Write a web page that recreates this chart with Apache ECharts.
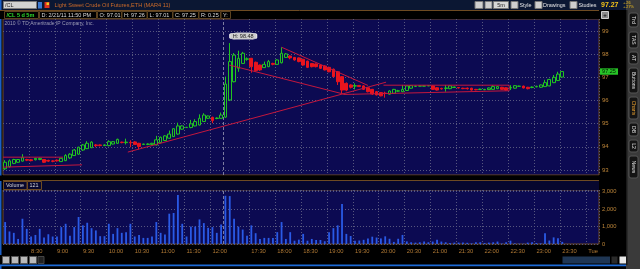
<!DOCTYPE html>
<html><head><meta charset="utf-8">
<script src="https://cdn.jsdelivr.net/npm/echarts@6/dist/echarts.min.js"></script>
<style>html,body{margin:0;padding:0;background:#000;}#c{width:640px;height:269px;}</style>
</head><body><div id="c"></div><script>
// ---------- DATA ----------
const times = [
 '8:00','8:05','8:10','8:15','8:20','8:25','8:30','8:35','8:40','8:45','8:50','8:55',
 '9:00','9:05','9:10','9:15','9:20','9:25','9:30','9:35','9:40','9:45','9:50','9:55',
 '10:00','10:05','10:10','10:15','10:20','10:25','10:30','10:35','10:40','10:45','10:50','10:55',
 '11:00','11:05','11:10','11:15','11:20','11:25','11:30','11:35','11:40','11:45','11:50','11:55',
 '12:00','12:05','12:10',
 '17:00','17:05','17:10','17:15','17:20','17:25','17:30','17:35','17:40','17:45','17:50','17:55',
 '18:00','18:05','18:10','18:15','18:20','18:25','18:30','18:35','18:40','18:45','18:50','18:55',
 '19:00','19:05','19:10','19:15','19:20','19:25','19:30','19:35','19:40','19:45','19:50','19:55',
 '20:00','20:05','20:10','20:15','20:20','20:25','20:30','20:35','20:40','20:45','20:50','20:55',
 '21:00','21:05','21:10','21:15','21:20','21:25','21:30','21:35','21:40','21:45','21:50','21:55',
 '22:00','22:05','22:10','22:15','22:20','22:25','22:30','22:35','22:40','22:45','22:50','22:55',
 '23:00','23:05','23:10','23:15','23:20','23:25','23:30',
 '23:35','23:40','23:45','23:50','23:55','0:00','0:05','0:10'
];
const opens = [
 93.05,93.14,93.28,93.33,93.38,93.45,93.44,93.44,93.45,93.45,93.41,93.39,93.42,93.36,93.40,93.52,93.62,93.68,93.86,93.92,
 93.96,94.08,94.08,94.05,94.05,94.12,94.15,94.20,94.18,94.19,94.21,94.15,94.10,94.10,94.10,94.08,94.18,94.27,94.37,94.44,
 94.55,94.76,94.83,94.83,94.90,94.94,95.09,95.23,95.27,95.22,95.23,
 95.28,96.02,96.81,97.39,97.60,97.78,97.82,97.65,97.53,97.42,97.46,97.60,97.56,97.63,97.86,97.92,97.86,97.84,97.78,97.70,
 97.60,97.58,97.53,97.49,97.43,97.35,97.24,97.03,96.74,96.67,96.62,96.65,96.63,96.55,96.48,96.38,96.34,96.32,96.27,96.31,
 96.40,96.38,96.43,96.53,96.61,96.62,96.62,96.63,96.63,96.55,96.52,96.52,96.51,96.56,96.56,96.53,96.53,96.53,96.48,96.47,
 96.46,96.47,96.48,96.51,96.57,96.55,96.54,96.53,96.61,96.62,96.57,96.56,96.59,96.57,96.60,96.63,96.77,96.86,97.01
];
const closes = [
 93.33,93.39,93.45,93.45,93.53,93.42,93.40,93.50,93.50,93.33,93.38,93.37,93.39,93.50,93.62,93.68,93.86,93.98,94.08,94.15,
 94.20,94.05,94.05,94.08,94.22,94.22,94.32,94.18,94.20,94.17,94.10,94.01,94.12,94.12,94.15,94.30,94.41,94.47,94.55,94.78,
 94.90,94.90,94.84,94.99,95.09,95.23,95.37,95.33,95.13,95.24,95.37,
 96.71,97.68,97.96,97.82,98.04,97.80,97.46,97.29,97.32,97.56,97.68,97.56,97.75,98.04,98.01,97.84,97.75,97.68,97.53,97.43,
 97.46,97.46,97.39,97.32,97.24,97.03,96.81,96.45,96.45,96.57,96.64,96.60,96.48,96.38,96.28,96.24,96.20,96.30,96.41,96.48,
 96.42,96.48,96.63,96.64,96.62,96.63,96.63,96.64,96.48,96.45,96.50,96.54,96.63,96.58,96.54,96.51,96.51,96.45,96.46,96.49,
 96.48,96.54,96.60,96.60,96.48,96.45,96.56,96.64,96.62,96.54,96.51,96.58,96.61,96.67,96.77,96.91,97.00,97.14,97.25
];
const lows = [
 93.00,93.10,93.25,93.30,93.36,93.38,93.37,93.41,93.42,93.30,93.34,93.33,93.36,93.34,93.38,93.48,93.60,93.65,93.82,93.90,
 93.94,93.98,94.02,94.03,94.02,94.10,94.12,94.15,94.10,93.98,94.08,93.89,94.09,94.07,94.08,94.06,94.15,94.25,94.35,94.42,
 94.52,94.74,94.81,94.80,94.88,94.92,95.07,95.20,95.02,95.19,95.21,
 95.25,95.98,96.78,97.24,97.58,97.72,97.20,97.25,97.28,97.40,97.44,97.52,97.54,97.60,97.84,97.78,97.72,97.65,97.50,97.40,
 97.43,97.43,97.36,97.30,97.22,97.00,96.67,96.31,96.40,96.52,96.48,96.58,96.46,96.35,96.24,96.22,96.18,96.12,96.25,96.29,
 96.37,96.36,96.41,96.51,96.59,96.61,96.61,96.62,96.46,96.43,96.47,96.38,96.49,96.55,96.52,96.49,96.47,96.43,96.44,96.46,
 96.45,96.45,96.46,96.49,96.46,96.43,96.45,96.51,96.59,96.52,96.48,96.53,96.57,96.55,96.58,96.61,96.75,96.84,97.01
];
const highs = [
 93.42,93.45,93.48,93.47,93.68,93.48,93.47,93.52,93.53,93.46,93.44,93.42,93.45,93.52,93.68,93.72,93.90,94.00,94.12,94.24,
 94.24,94.12,94.10,94.10,94.28,94.25,94.35,94.22,94.35,94.28,94.24,94.17,94.13,94.15,94.17,94.47,94.44,94.50,94.70,94.80,
 95.04,94.93,94.86,95.16,95.19,95.40,95.45,95.35,95.30,95.27,95.48,
 97.03,98.48,98.05,98.15,98.10,97.86,97.84,97.68,97.55,97.68,97.75,97.63,97.78,98.30,98.05,97.95,97.88,97.86,97.80,97.72,
 97.62,97.60,97.56,97.52,97.46,97.38,97.27,97.05,96.78,96.70,96.74,96.67,96.66,96.57,96.50,96.41,96.36,96.38,96.44,96.50,
 96.46,96.67,96.65,96.66,96.64,96.65,96.65,96.66,96.65,96.57,96.55,96.67,96.65,96.60,96.58,96.55,96.56,96.55,96.50,96.51,
 96.50,96.56,96.66,96.62,96.59,96.57,96.66,96.66,96.64,96.64,96.59,96.61,96.64,96.69,96.89,96.93,97.10,97.24,97.26
];
const volumes = [
 1260,720,640,290,1450,870,430,520,870,370,560,430,430,970,1160,480,970,1550,1070,1220,
 910,780,450,450,1160,580,910,640,680,1160,430,520,350,350,430,1260,640,540,1740,1780,
 2810,1160,430,1000,1000,1410,1200,930,970,640,1120,
 2770,2750,1450,1000,830,480,1070,620,290,350,350,350,680,1260,290,680,190,250,580,190,
 290,230,230,160,680,910,1070,2290,580,460,190,200,240,320,420,370,320,440,300,120,
 300,520,150,100,80,100,140,100,140,250,140,100,60,80,80,80,70,40,100,100,
 60,80,100,140,30,100,190,40,20,20,80,100,60,40,620,200,380,330,121
];
const priceTicks = [93, 94, 95, 96, 97, 98, 99];
const volumeTicks = [0, 1000, 2000, 3000];
const tickLabelMap = {'0:00': 'Tue'};
const sessionStartIndex = 51;
const sessionBreak = 50.5;
const highMark = {index: 52, value: 98.48, text: 'H: 98.48'};
const lastPrice = 97.25;
// drawn trend lines: [bar position, price] pairs
const trendLines = [
 [[-0.5, 93.55], [13.4, 93.55]],
 [[-0.5, 93.12], [17.8, 93.22]],
 [[28.4, 93.77], [88.2, 96.79]],
 [[64.0, 98.30], [84.0, 96.65]],
 [[51.9, 97.53], [78.3, 96.28]],
 [[78.3, 96.26], [116.7, 96.42]],
 [[87.6, 96.66], [116.7, 96.66], [116.7, 96.42]]
];

// ---------- CHART ----------
const FONT = '"Liberation Sans", Arial, sans-serif';
const chart = echarts.init(document.getElementById('c'), null, {renderer: 'canvas', width: 640, height: 269});
function isGridTime(i) {
  if (i === 0 || i === sessionStartIndex) return false;
  const t = times[i]; if (!t) return false;
  const m = t.split(':')[1];
  return m === '00' || m === '30';
}
const BG = '#0c0a52';
const GRIDC = '#57577f';
const BROWN = '#6e4b22';
const catAxis = (gi, showLabel) => ({
  type: 'category', gridIndex: gi, data: times, boundaryGap: true,
  axisLine: {show: false}, axisTick: {show: false},
  axisLabel: showLabel ? {show: true, interval: (i) => isGridTime(i), formatter: (v) => tickLabelMap[v] || v,
    color: '#b27a34', fontSize: 5.8, fontFamily: FONT, align: 'left', margin: 4} : {show: false},
  splitLine: {show: true, interval: (i) => isGridTime(i), lineStyle: {color: GRIDC, type: [1, 2], width: 1}}
});
const candleData = opens.map((o, i) => [o, closes[i], lows[i], highs[i]]);

const series = [
  {
    type: 'line', xAxisIndex: 2, yAxisIndex: 0, data: [[sessionBreak, null]], symbol: 'none', silent: true,
    markLine: {silent: true, symbol: 'none', z: 1, label: {show: false},
      lineStyle: {color: GRIDC, type: [1, 2], width: 1},
      data: priceTicks.map(v => ({yAxis: v}))}
  },
  {
    type: 'candlestick', xAxisIndex: 0, yAxisIndex: 0, data: candleData, barWidth: 3.2, z: 2,
    itemStyle: {color: BG, color0: '#e8141e', borderColor: '#21c421', borderColor0: '#e8141e', borderWidth: 1},
    markPoint: {
      silent: true, symbol: 'roundRect', symbolSize: [27, 6.5], symbolOffset: [13.5, -7],
      itemStyle: {color: '#cfcfcf', borderColor: '#f2f2f2', borderWidth: 0.5},
      label: {show: true, position: 'inside', formatter: highMark.text, fontSize: 5.5, fontFamily: FONT, color: '#1a1a1a'},
      data: [{coord: [highMark.index, highMark.value]}]
    }
  },
  {
    type: 'bar', xAxisIndex: 1, yAxisIndex: 1, data: volumes, barWidth: 1.8,
    itemStyle: {color: '#2a5ae6'}
  },
  {
    type: 'line', xAxisIndex: 3, yAxisIndex: 1, data: [[sessionBreak, null]], symbol: 'none', silent: true,
    markLine: {silent: true, symbol: 'none', label: {show: false},
      lineStyle: {color: '#7c7ca0', type: [3, 2], width: 1}, data: [{xAxis: sessionBreak}]}
  }
];
trendLines.forEach((seg, k) => {
  const s = {type: 'line', xAxisIndex: 2, yAxisIndex: 0, data: seg, symbol: 'none', silent: true, z: 3,
    lineStyle: {color: '#c4173d', width: 1}};
  if (k === 0) s.markLine = {silent: true, symbol: 'none', label: {show: false},
      lineStyle: {color: '#7c7ca0', type: [3, 2], width: 1}, data: [{xAxis: sessionBreak}]};
  series.push(s);
});

chart.setOption({
  backgroundColor: '#000',
  animation: false,
  grid: [
    {left: 3, top: 19, width: 596, height: 156, show: true, backgroundColor: BG, borderColor: BROWN, borderWidth: 1},
    {left: 3, top: 190, width: 596, height: 54, show: true, backgroundColor: BG, borderColor: BROWN, borderWidth: 1}
  ],
  xAxis: [
    catAxis(0, false), catAxis(1, true),
    {type: 'value', gridIndex: 0, min: -0.5, max: times.length - 0.5, show: false},
    {type: 'value', gridIndex: 1, min: -0.5, max: times.length - 0.5, show: false}
  ],
  yAxis: [
    {type: 'value', gridIndex: 0, position: 'right', min: 92.78, max: 99.52, scale: true,
      axisLine: {show: false}, axisTick: {show: false}, splitLine: {show: false},
      axisLabel: {customValues: priceTicks, color: '#bb8438', fontSize: 6, fontFamily: FONT, margin: 3, formatter: (v) => String(v)}},
    {type: 'value', gridIndex: 1, position: 'right', min: 0, max: 3100, interval: 1000,
      axisLine: {show: false}, axisTick: {show: false},
      splitLine: {show: true, lineStyle: {color: GRIDC, type: [1, 2], width: 1}},
      axisLabel: {customValues: volumeTicks, color: '#bb8438', fontSize: 5.8, fontFamily: FONT, margin: 3,
        formatter: (v) => v % 1000 === 0 ? String(v).replace(/\B(?=(\d{3})+(?!\d))/g, ',') : ''}}
  ],
  series: series
});

// ---------- CHROME (toolbar, info bar, side tabs) ----------
const g = [];
function rect(x, y, w, h, fill, stroke, r, z) {
  g.push({type: 'rect', silent: true, z: z || 0, shape: {x, y, width: w, height: h, r: r || 0},
    style: {fill: fill || 'none', stroke: stroke || null, lineWidth: stroke ? 1 : 0}});
}
function text(x, y, t, fill, size, o) {
  o = o || {};
  g.push({type: 'text', silent: true, x, y, rotation: o.rot || 0, z: o.z || 1,
    style: {text: t, fill, font: (o.bold ? 'bold ' : '') + size + 'px ' + FONT,
      verticalAlign: 'middle', align: o.align || 'left'}});
}
// top bar
rect(0, 0, 640, 10, '#0b1733');
rect(0, 0, 1.5, 269, '#1c5fc6');
rect(3.5, 1.5, 33, 7, '#d2d2d2', '#7a7a7a');
text(5, 5.2, '/CL', '#222', 5.5);
rect(38, 2, 4, 6.5, '#3a78d0');
rect(44.5, 2, 5, 6, '#e03020');
rect(46.5, 2.5, 2.5, 2.5, '#f0d020');
text(54.5, 5.3, 'Light Sweet Crude Oil Futures,ETH (MAR4 11)', '#cd6b2a', 5.6);
rect(475, 1.5, 8, 7, '#cfcfcf', '#777');
rect(485, 1.5, 7, 7, '#cfcfcf', '#777');
rect(493.5, 1.5, 15, 7, '#d6d6d6', '#777');
text(501, 5.2, '5m', '#222', 5.5, {align: 'center'});
rect(511, 1.5, 7, 7, '#cfcfcf', '#777');
text(519.5, 5.2, 'Style', '#e6e6e6', 5.4);
rect(535, 1.5, 7, 7, '#cfcfcf', '#777');
text(543, 5.2, 'Drawings', '#e6e6e6', 5.4);
rect(570, 1.5, 7, 7, '#cfcfcf', '#777');
text(578.5, 5.2, 'Studies', '#e6e6e6', 5.4);
text(601, 5.3, '97.27', '#f2c21a', 7, {bold: true});
text(623, 3, '+.26', '#f0c020', 3.8);
text(623, 7, '+.27%', '#f0c020', 3.8);
// info bar
rect(0, 10, 626, 9, '#000');
g.push({type: 'line', silent: true, shape: {x1: 0, y1: 10.5, x2: 599, y2: 10.5}, style: {stroke: BROWN, lineWidth: 1}});
const infoBoxes = [
  [4, 34, '/CL 5 d 5m', '#2fdc2f'], [39, 57, 'D: 2/21/11 11:50 PM', '#dcdcdc'], [97, 24, 'O: 97.01', '#dcdcdc'],
  [121.5, 25, 'H: 97.26', '#dcdcdc'], [147, 25, 'L: 97.01', '#dcdcdc'], [172.5, 25.5, 'C: 97.25', '#dcdcdc'],
  [198.5, 21.5, 'R: 0.25', '#dcdcdc'], [220.5, 9.5, 'Y:', '#dcdcdc']
];
infoBoxes.forEach(b => {
  rect(b[0] + 0.5, 11.5, b[1], 7, '#000', '#5b4220');
  text(b[0] + 2.5, 15.2, b[2], b[3], 5.5, {bold: b[3] === '#2fdc2f'});
});
rect(601.5, 11.5, 7, 7, '#8a8a8a', '#cfcfcf');
text(605, 15, '+', '#111', 6, {align: 'center', bold: true});
// copyright
text(4.5, 24, '2010 \u00a9 TD Ameritrade IP Company, Inc.', '#9d9db5', 5);
// panel separator + volume header
rect(0, 175.5, 599, 5.5, '#000');
g.push({type: 'line', silent: true, shape: {x1: 3, y1: 180.5, x2: 599, y2: 180.5}, style: {stroke: BROWN, lineWidth: 1}});
rect(3, 181, 596, 9, '#07072e');
rect(3.5, 181.5, 23.5, 8, '#07072e', '#6e4b22');
text(6, 185.7, 'Volume', '#d6d6d6', 5.4);
rect(27.5, 181.5, 14, 8, '#07072e', '#6e4b22');
text(29.5, 185.7, '121', '#d6d6d6', 5.4);
// bottom bar
rect(0, 255, 626, 10, '#000');
[[2, 7], [11, 7], [20, 7], [29, 7]].forEach(b => { rect(b[0] + 0.5, 256.5, b[1], 7, '#b9b9b9', '#555'); });
rect(38, 256.5, 6, 7, '#222', '#444');
rect(562.5, 256.5, 47.5, 7, '#1f3654');
rect(611.5, 256.5, 6, 7, '#2a2a2a');
rect(619.5, 256.5, 6.5, 7, '#e8e8e8');
rect(0, 264.5, 640, 1.8, '#1c6ad6');
// right sidebar
rect(626, 0, 14, 269, '#3a3a3a');
rect(626, 10, 1.5, 255, '#1a1a1a');
const tabs = [['Trd', 13, 27], ['TAS', 32, 48], ['AT', 52, 64], ['Buttons', 68, 93], ['Charts', 97, 119],
  ['DB', 123, 136], ['L2', 140, 152], ['News', 156, 178]];
tabs.forEach(t => {
  rect(629, t[1], 9, t[2] - t[1], '#141414', '#555', 2);
  text(633.5, (t[1] + t[2]) / 2, t[0], t[0] === 'Charts' ? '#e8a030' : '#e0e0e0', 5, {align: 'center', rot: -Math.PI / 2});
});
// last price tag on the price axis
const tagY = chart.convertToPixel({yAxisIndex: 0}, lastPrice);
g.push({type: 'rect', silent: true, z: 50, shape: {x: 600, y: tagY - 3.2, width: 18, height: 6.4}, style: {fill: '#27c427'}});
g.push({type: 'text', silent: true, z: 51, x: 609, y: tagY, style: {text: String(lastPrice), fill: '#001800', font: '5.5px ' + FONT, align: 'center', verticalAlign: 'middle'}});

chart.setOption({graphic: {elements: g}});
</script></body></html>
